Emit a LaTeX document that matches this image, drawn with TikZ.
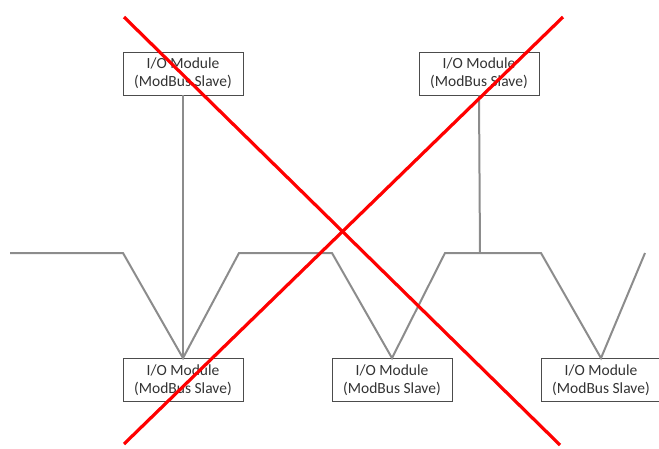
\documentclass[tikz,border=0pt]{standalone}
\usepackage{fontspec}
\setmainfont{Carlito}
\usepackage{tikz}
\usetikzlibrary{positioning,calc}
\tikzset{
  iomodule/.style={rectangle,draw=black!70,line width=.8pt,fill=white,
    minimum width=120pt,minimum height=43pt,inner sep=0pt,
    align=center,font=\fontsize{15.5}{18}\selectfont,text=black!80},
  busline/.style={draw=black!45,line width=2pt,line join=miter},
  crossline/.style={draw=red,line width=3.2pt}
}
\begin{document}
\begin{tikzpicture}[
  x=1pt,
  y=-1pt
]
  \useasboundingbox (0,0) rectangle (659,448);

  % --------------------------------------------------------------
  % The modules (slaves) above and below the bus.
  % --------------------------------------------------------------
  \node[iomodule] (mUL) at (183,73.5) {I/O Module\\(ModBus Slave)};
  \node[iomodule] (mUR) at (479,73.5) {I/O Module\\(ModBus Slave)};

  \node[iomodule] (mLL) at (183,380) {I/O Module\\(ModBus Slave)};
  \node[iomodule] (mLC) at (392,380) {I/O Module\\(ModBus Slave)};
  \node[iomodule] (mLR) at (601,380) {I/O Module\\(ModBus Slave)};

  % --------------------------------------------------------------
  % Corners of the bus.
  % --------------------------------------------------------------
  \coordinate (bStart) at (10,253);
  \coordinate (bA)     at (123,253);
  \coordinate (bB)     at (239,253);
  \coordinate (bC)     at (332,253);
  \coordinate (bD)     at (445,253);
  \coordinate (bT)     at (480,253);
  \coordinate (bE)     at (541,253);
  \coordinate (bEnd)   at (645,253);

  % The bus itself, dipping down to each lower module.
  \draw[busline] (bStart) -- (bA) -- (mLL.north) -- (bB) -- (bC)
    -- (mLC.north) -- (bD) -- (bE) -- (mLR.north) -- (bEnd);

  % Stubs to the upper modules.
  \draw[busline] (mUL.south) -- (mLL.north);
  \draw[busline] (mUR.south) -- (bT);

  % --------------------------------------------------------------
  % The big cross.
  % --------------------------------------------------------------
  \coordinate (xTL) at (124,17);
  \coordinate (xTR) at (563,17);
  \coordinate (xBL) at (124,444);
  \coordinate (xBR) at (560,445);

  \draw[crossline] (xTL) -- (xBR);
  \draw[crossline] (xTR) -- (xBL);

\end{tikzpicture}
\end{document}
